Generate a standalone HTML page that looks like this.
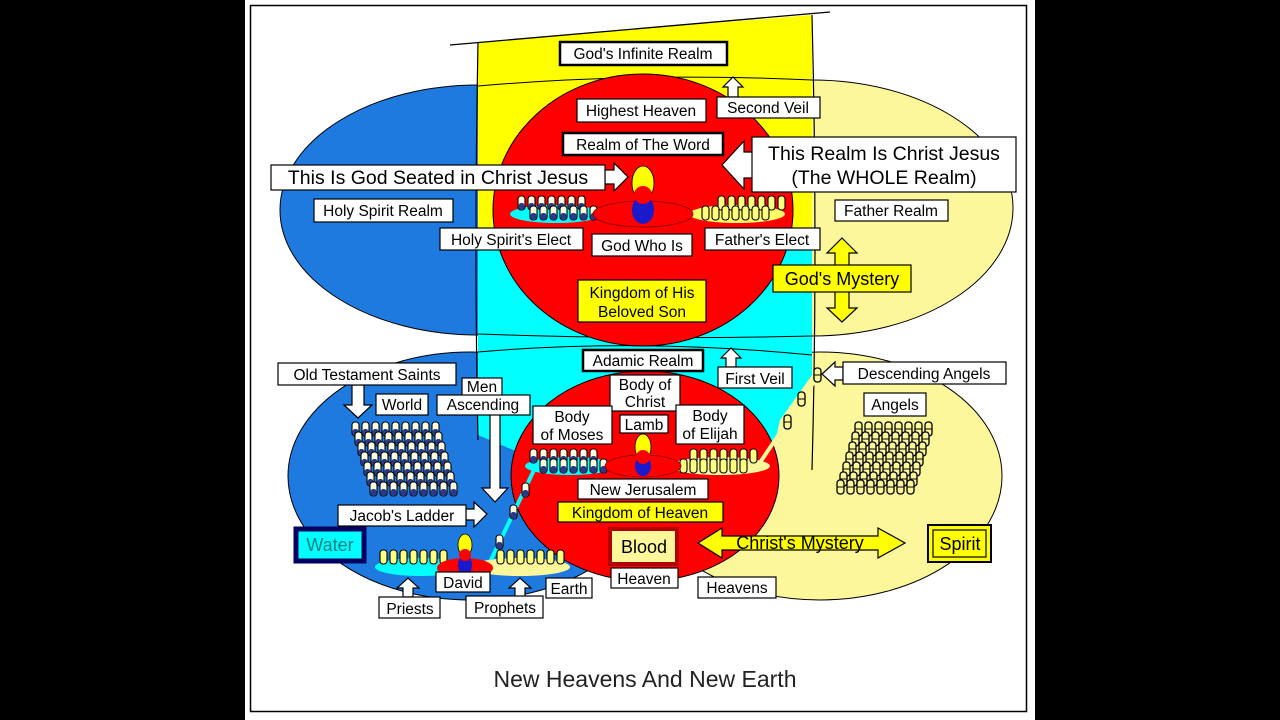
<!DOCTYPE html>
<html><head><meta charset="utf-8"><style>
html,body{margin:0;padding:0;background:#000;}
svg{display:block;}
text{font-family:"Liberation Sans",sans-serif;}
</style></head><body>
<svg width="1280" height="720" viewBox="0 0 1280 720" xmlns="http://www.w3.org/2000/svg" xmlns:xlink="http://www.w3.org/1999/xlink">
<defs>
<g id="f"><rect x="0" y="0" width="7" height="14" rx="3" fill="#fffde0" stroke="#000" stroke-width="1.1"/><rect x="0.6" y="7" width="5.8" height="7" rx="2.5" fill="#2a3a8a"/></g>
<g id="y"><rect x="0" y="0" width="7" height="14" rx="3" fill="#ffff80" stroke="#000" stroke-width="1.1"/></g>
<g id="a"><rect x="0" y="0" width="7" height="14" rx="3" fill="#fdf79c" stroke="#000" stroke-width="1.3"/><line x1="0" y1="7" x2="7" y2="7" stroke="#000"/></g>
<g id="rf"><use xlink:href="#f" x="0"/><use xlink:href="#f" x="10"/><use xlink:href="#f" x="20"/><use xlink:href="#f" x="30"/><use xlink:href="#f" x="40"/><use xlink:href="#f" x="50"/><use xlink:href="#f" x="60"/><use xlink:href="#f" x="70"/><use xlink:href="#f" x="80"/></g>
<g id="ra"><use xlink:href="#a" x="0"/><use xlink:href="#a" x="10"/><use xlink:href="#a" x="20"/><use xlink:href="#a" x="30"/><use xlink:href="#a" x="40"/><use xlink:href="#a" x="50"/><use xlink:href="#a" x="60"/><use xlink:href="#a" x="70"/></g>
<g id="r7f"><use xlink:href="#f" x="0"/><use xlink:href="#f" x="10"/><use xlink:href="#f" x="20"/><use xlink:href="#f" x="30"/><use xlink:href="#f" x="40"/><use xlink:href="#f" x="50"/><use xlink:href="#f" x="60"/></g>
<g id="r7y"><use xlink:href="#y" x="0"/><use xlink:href="#y" x="10"/><use xlink:href="#y" x="20"/><use xlink:href="#y" x="30"/><use xlink:href="#y" x="40"/><use xlink:href="#y" x="50"/><use xlink:href="#y" x="60"/></g>
</defs>
<rect x="245" y="0" width="790" height="720" fill="#fff"/>
<rect x="250.5" y="5.5" width="776" height="706" fill="#fff" stroke="#000" stroke-width="1.5"/>

<!-- lower ellipses -->
<ellipse cx="470" cy="476" rx="182" ry="124" fill="#1f7ae0" stroke="#000" stroke-width="1"/>
<ellipse cx="820" cy="476" rx="182" ry="124" fill="#fdf79c" stroke="#000" stroke-width="1"/>
<!-- upper ellipses -->
<ellipse cx="478" cy="210" rx="198" ry="125" fill="#1f7ae0" stroke="#000" stroke-width="1"/>
<ellipse cx="812" cy="208" rx="201" ry="128" fill="#fdf79c" stroke="#000" stroke-width="1"/>
<!-- column -->
<path d="M478,42 L812,15 L812,250 L478,250 Z" fill="#ffff00"/>
<path d="M478,230 L812,230 L812,375 L780,420 L768,472 L525,455 L478,435 Z" fill="#00ffff"/>
<path d="M478,42 Q474,250 478,440" fill="none" stroke="#000" stroke-width="1.2"/>
<path d="M812,15 Q818,250 812,470" fill="none" stroke="#000" stroke-width="1.2"/>
<line x1="450" y1="45" x2="830" y2="12" stroke="#000" stroke-width="1.3"/>
<path d="M478,86 Q640,72 812,80" fill="none" stroke="#000" stroke-width="1"/>
<path d="M478,334 Q640,340 812,336" fill="none" stroke="#000" stroke-width="1"/>
<path d="M478,352 Q640,338 812,355" fill="none" stroke="#000" stroke-width="1"/>

<!-- red circles -->
<ellipse cx="643" cy="210" rx="150" ry="136" fill="#ff0000" stroke="#000" stroke-width="1"/>
<ellipse cx="645" cy="476" rx="134" ry="105" fill="#ff0000" stroke="#000" stroke-width="1"/>

<!-- upper platforms -->
<ellipse cx="556" cy="214" rx="46" ry="9" fill="#00ffff"/>
<ellipse cx="737" cy="214" rx="48" ry="9" fill="#ffff66"/>
<use xlink:href="#r7f" x="518" y="196"/>
<use xlink:href="#r7f" x="530" y="206"/>
<use xlink:href="#r7y" x="718" y="196"/>
<use xlink:href="#r7y" x="702" y="206"/>
<ellipse cx="643" cy="214" rx="50" ry="13" fill="#ff0000" stroke="#800" stroke-width="0.8"/>
<ellipse cx="643" cy="183" rx="11" ry="17" fill="#ffff00" stroke="#000" stroke-width="0.8"/>
<ellipse cx="643" cy="210" rx="11" ry="14" fill="#1a1acc"/>
<circle cx="643" cy="195" r="9" fill="#ff0000"/>

<!-- lower platforms -->
<ellipse cx="570" cy="466" rx="45" ry="9" fill="#00ffff"/>
<ellipse cx="720" cy="466" rx="50" ry="9" fill="#fdf79c"/>
<use xlink:href="#r7f" x="530" y="449"/>
<use xlink:href="#r7f" x="540" y="459"/>
<use xlink:href="#r7y" x="690" y="449"/>
<use xlink:href="#r7y" x="680" y="459"/>
<ellipse cx="643" cy="466" rx="38" ry="11" fill="#ff0000" stroke="#800" stroke-width="0.8"/>
<ellipse cx="643" cy="447" rx="8" ry="13" fill="#ffff00" stroke="#000" stroke-width="0.8"/>
<ellipse cx="643" cy="466" rx="8" ry="10" fill="#1a1acc"/>
<circle cx="643" cy="457" r="7" fill="#ff0000"/>
<!-- ladders -->
<line x1="535" y1="468" x2="490" y2="562" stroke="#00ffff" stroke-width="4"/>
<line x1="757" y1="467" x2="820" y2="373" stroke="#fdf79c" stroke-width="4"/>
<use xlink:href="#f" x="510" y="505"/>
<use xlink:href="#f" x="496" y="535"/>
<use xlink:href="#f" x="522" y="483"/>
<use xlink:href="#a" x="798" y="392"/>
<use xlink:href="#a" x="784" y="415"/>
<use xlink:href="#a" x="814" y="368"/>

<!-- earth platform -->
<ellipse cx="420" cy="567" rx="45" ry="9" fill="#00ffff"/>
<ellipse cx="520" cy="567" rx="50" ry="9" fill="#fdf79c"/>
<use xlink:href="#r7y" x="380" y="550"/>
<use xlink:href="#r7y" x="497" y="550"/>
<ellipse cx="465" cy="568" rx="28" ry="10" fill="#ff0000"/>
<ellipse cx="465" cy="545" rx="7" ry="11" fill="#ffff00" stroke="#000" stroke-width="0.8"/>
<ellipse cx="465" cy="565" rx="7" ry="10" fill="#1a1acc"/>
<circle cx="465" cy="555" r="6" fill="#ff0000"/>

<!-- crowds -->
<use xlink:href="#rf" x="352" y="422"/>
<use xlink:href="#rf" x="355" y="432"/>
<use xlink:href="#rf" x="358" y="442"/>
<use xlink:href="#rf" x="361" y="452"/>
<use xlink:href="#rf" x="364" y="462"/>
<use xlink:href="#rf" x="367" y="472"/>
<use xlink:href="#rf" x="370" y="482"/>
<use xlink:href="#ra" x="855" y="422"/>
<use xlink:href="#ra" x="852" y="432"/>
<use xlink:href="#ra" x="849" y="442"/>
<use xlink:href="#ra" x="846" y="452"/>
<use xlink:href="#ra" x="843" y="462"/>
<use xlink:href="#ra" x="840" y="472"/>
<use xlink:href="#ra" x="837" y="480"/>

<!-- arrows (white) -->
<g fill="#fff" stroke="#000" stroke-width="1.2">
<polygon points="733,77 743,87 738,87 738,97 728,97 728,87 723,87"/>
<polygon points="731,348 741,358 736,358 736,367 726,367 726,358 721,358"/>
<polygon points="605,170 614,170 614,163 628,177 614,191 614,184 605,184"/>
<polygon points="754,152 744,152 744,141 722,165 744,189 744,178 754,178"/>
<polygon points="352,385 364,385 364,405 372,405 358,418 344,405 352,405"/>
<polygon points="490,414 500,414 500,488 508,488 495,502 482,488 490,488"/>
<polygon points="466,509 474,509 474,502 487,514 474,527 474,520 466,520"/>
<polygon points="843,367 835,367 835,362 822,374 835,386 835,380 843,380"/>
<polygon points="403,597 403,588 397,588 408,578 419,588 413,588 413,597"/>
<polygon points="515,597 515,588 509,588 520,578 531,588 525,588 525,597"/>
</g>
<!-- yellow double arrows -->
<g fill="#ffff00" stroke="#000" stroke-width="1.2">
<polygon points="842,238 857,253 849,253 849,308 857,308 842,322 827,308 835,308 835,253 827,253"/>
<polygon points="698,543 722,528 722,536 878,536 878,528 905,543 878,558 878,550 722,550 722,558"/>
</g>

<!-- labels -->
<g font-size="15.5" fill="#000" stroke-width="1.2">
<g stroke="#000">
<rect x="560" y="42" width="167" height="23" fill="#fff" stroke-width="2.5"/>
<rect x="577" y="99" width="129" height="23" fill="#fff"/>
<rect x="717" y="97" width="103" height="21" fill="#fff"/>
<rect x="563" y="133" width="160" height="22" fill="#fff" stroke-width="2.5"/>
<rect x="271" y="165" width="334" height="25" fill="#fff"/>
<rect x="752" y="137" width="264" height="55" fill="#fff"/>
<rect x="314" y="199" width="139" height="23" fill="#fff"/>
<rect x="835" y="200" width="113" height="21" fill="#fff"/>
<rect x="440" y="228" width="143" height="22" fill="#fff"/>
<rect x="592" y="234" width="100" height="22" fill="#fff"/>
<rect x="705" y="228" width="115" height="22" fill="#fff"/>
<rect x="773" y="265" width="138" height="27" fill="#ffff00"/>
<rect x="578" y="280" width="128" height="42" fill="#ffff00"/>
<rect x="583" y="350" width="120" height="21" fill="#fff" stroke-width="2.5"/>
<rect x="718" y="367" width="74" height="21" fill="#fff"/>
<rect x="278" y="363" width="178" height="22" fill="#fff"/>
<rect x="376" y="394" width="52" height="21" fill="#fff"/>
<rect x="462" y="378" width="40" height="18" fill="#fff"/>
<rect x="437" y="395" width="93" height="20" fill="#fff"/>
<rect x="610" y="375" width="70" height="36" fill="#fff"/>
<rect x="533" y="406" width="79" height="38" fill="#fff"/>
<rect x="620" y="415" width="48" height="18" fill="#fff"/>
<rect x="676" y="405" width="68" height="39" fill="#fff"/>
<rect x="843" y="362" width="163" height="22" fill="#fff"/>
<rect x="864" y="393" width="62" height="23" fill="#fff"/>
<rect x="578" y="479" width="130" height="20" fill="#fff"/>
<rect x="558" y="502" width="165" height="20" fill="#ffff00"/>
<rect x="338" y="505" width="128" height="21" fill="#fff"/>
<rect x="296" y="529" width="68" height="32" fill="#00ffff" stroke="#000060" stroke-width="5"/>
<rect x="610" y="529" width="67" height="35" fill="#fdf79c" stroke="#b00000" stroke-width="4"/>
<rect x="928" y="525" width="63" height="37" fill="#ffff00" stroke-width="2"/>
<rect x="933" y="530" width="53" height="27" fill="#ffff00"/>
<rect x="436" y="572" width="54" height="20" fill="#fff"/>
<rect x="546" y="578" width="46" height="20" fill="#fff"/>
<rect x="611" y="568" width="67" height="20" fill="#fff"/>
<rect x="698" y="577" width="78" height="21" fill="#fff"/>
<rect x="379" y="597" width="61" height="21" fill="#fff"/>
<rect x="466" y="596" width="77" height="22" fill="#fff"/>
</g>
<g text-anchor="middle">
<text x="643" y="59">God's Infinite Realm</text>
<text x="641" y="116">Highest Heaven</text>
<text x="768" y="113">Second Veil</text>
<text x="643" y="150">Realm of The Word</text>
<text x="438" y="184" font-size="19.5">This Is God Seated in Christ Jesus</text>
<text x="884" y="160" font-size="19.5">This Realm Is Christ Jesus</text>
<text x="884" y="184" font-size="19.5">(The WHOLE Realm)</text>
<text x="383" y="216">Holy Spirit Realm</text>
<text x="891" y="216">Father Realm</text>
<text x="511" y="245">Holy Spirit's Elect</text>
<text x="642" y="251">God Who Is</text>
<text x="762" y="245">Father's Elect</text>
<text x="842" y="285" font-size="18">God's Mystery</text>
<text x="642" y="298">Kingdom of His</text>
<text x="642" y="317">Beloved Son</text>
<text x="643" y="366">Adamic Realm</text>
<text x="755" y="384">First Veil</text>
<text x="367" y="380">Old Testament Saints</text>
<text x="402" y="410">World</text>
<text x="482" y="392">Men</text>
<text x="483" y="410">Ascending</text>
<text x="645" y="390">Body of</text>
<text x="645" y="407">Christ</text>
<text x="572" y="422">Body</text>
<text x="572" y="440">of Moses</text>
<text x="644" y="430">Lamb</text>
<text x="710" y="421">Body</text>
<text x="710" y="439">of Elijah</text>
<text x="924" y="379">Descending Angels</text>
<text x="895" y="410">Angels</text>
<text x="643" y="495">New Jerusalem</text>
<text x="640" y="518">Kingdom of Heaven</text>
<text x="402" y="521">Jacob's Ladder</text>
<text x="330" y="551" font-size="18" fill="#008080">Water</text>
<text x="644" y="553" font-size="18">Blood</text>
<text x="800" y="549" font-size="18">Christ's Mystery</text>
<text x="960" y="550" font-size="18">Spirit</text>
<text x="463" y="588">David</text>
<text x="569" y="594">Earth</text>
<text x="644" y="584">Heaven</text>
<text x="737" y="593">Heavens</text>
<text x="410" y="614">Priests</text>
<text x="505" y="613">Prophets</text>
<text x="645" y="687" font-size="23" fill="#222">New Heavens And New Earth</text>
</g>
</g>
</svg>
</body></html>
